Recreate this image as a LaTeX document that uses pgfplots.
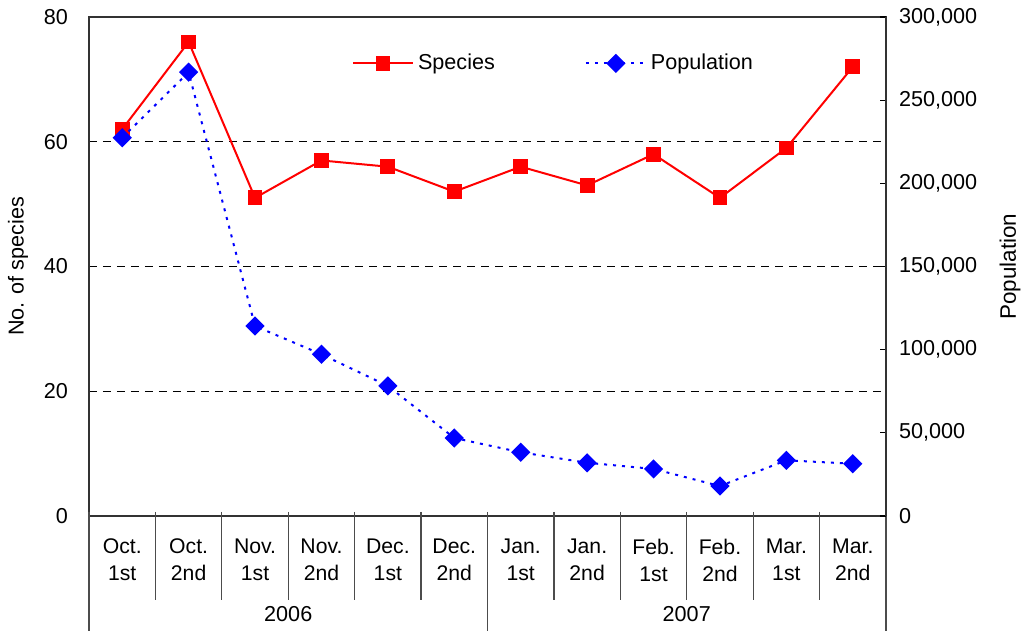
\documentclass[border=0pt]{standalone}
\usepackage{fontspec}
\setmainfont{Liberation Sans}
\usepackage{pgfplots}
\pgfplotsset{compat=1.18}
\begin{document}
\begin{tikzpicture}[font=\fontsize{10.8}{13}\selectfont]
\begin{axis}[
  scale only axis, width=398.5pt, height=249.5pt,
  xmin=-0.5, xmax=11.5, ymin=0, ymax=80,
  xtick={0,...,11},
  xticklabels={{Oct.\\1st},{Oct.\\2nd},{Nov.\\1st},{Nov.\\2nd},{Dec.\\1st},{Dec.\\2nd},{Jan.\\1st},{Jan.\\2nd},{Feb.\\1st},{Feb.\\2nd},{Mar.\\1st},{Mar.\\2nd}},
  xticklabel style={align=center, font=\fontsize{10.6}{13.5}\selectfont, yshift=-8pt},
  x tick style={draw=none},
  ytick={0,20,40,60,80}, ytick pos=left,
  yticklabel style={xshift=-7pt},
  ymajorgrids, grid style={black, dash pattern=on 4pt off 3pt, line width=0.5pt},
  ylabel={No. of species},
  ylabel style={at={(axis description cs:-0.0891,0.5)}, anchor=center},
  axis line style={line width=0.8pt, black!80},
  tick align=inside, major tick length=3pt,
  y tick style={black, line width=0.6pt},
  clip=false,
  /pgf/number format/assume math mode=true,
]
\addplot[red, line width=1pt, mark=square*, mark size=3.2pt, mark options={solid}] coordinates {
(0,62) (1,76) (2,51) (3,57) (4,56) (5,52) (6,56) (7,53) (8,58) (9,51) (10,59) (11,72)};
\pgfplotsinvokeforeach{0.5,1.5,2.5,3.5,4.5,6.5,7.5,8.5,9.5,10.5}{
  \draw[black!70, line width=0.6pt] (axis cs:#1,0) ++(0pt,2pt) -- ++(0pt,-44pt);
}
\pgfplotsinvokeforeach{-0.5,5.5,11.5}{
  \draw[black!70, line width=0.6pt] (axis cs:#1,0) ++(0pt,2pt) -- ++(0pt,-59.5pt);
}
\node at (axis cs:2.5,0) [yshift=-49pt] {2006};
\node at (axis cs:8.5,0) [yshift=-49pt] {2007};
\end{axis}
\begin{axis}[
  scale only axis, width=398.5pt, height=249.5pt,
  xmin=-0.5, xmax=11.5, ymin=0, ymax=300000,
  axis x line=none, axis y line*=right,
  ytick={0,50000,100000,150000,200000,250000,300000},
  scaled y ticks=false,
  /pgf/number format/fixed, /pgf/number format/1000 sep={,},
  /pgf/number format/assume math mode=true,
  yticklabel style={xshift=3pt},
  ylabel={Population},
  ylabel style={at={(axis description cs:1.1556,0.5)}, anchor=center, font=\fontsize{11.2}{13}\selectfont},
  axis line style={line width=0.8pt, black!80},
  tick align=inside, major tick length=3pt,
  y tick style={black, line width=0.6pt},
  clip=false,
  legend style={at={(axis description cs:0.322,0.907)}, anchor=west, draw=none, fill=none,
    /tikz/every even column/.append style={column sep=43pt}},
  legend columns=2,
  legend image code/.code={\draw[mark repeat=2,mark phase=2,#1] plot coordinates {(0pt,0pt) (15pt,0pt) (30pt,0pt)};},
]
\addlegendimage{red, line width=1pt, mark=square*, mark size=3.2pt, mark options={solid}}
\addlegendentry{Species}
\addplot[blue, line width=1pt, dash pattern=on 1.5pt off 3pt, mark=square*, mark size=2.9pt, mark options={solid, rotate=45}] coordinates {
(0,227400) (1,266800) (2,114200) (3,97200) (4,78200) (5,46900) (6,38300) (7,32000) (8,28300) (9,18000) (10,33500) (11,31400)};
\addlegendentry{Population}
\end{axis}
\pgfresetboundingbox
\path (-44.5pt,-57.5pt) rectangle (469.5pt,258pt);
\end{tikzpicture}
\end{document}
